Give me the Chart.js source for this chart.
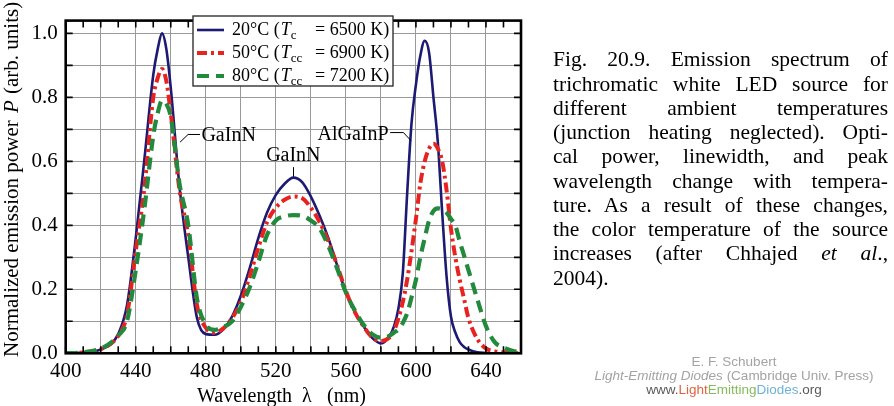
<!DOCTYPE html>
<html><head><meta charset="utf-8">
<script src="https://cdn.jsdelivr.net/npm/chart.js@4/dist/chart.umd.min.js"></script>
<style>
html,body{margin:0;padding:0;background:#fff;}
#wrap{position:relative;width:894px;height:406px;overflow:hidden;background:#fff;}
#c{position:absolute;left:0;top:0;}
.cap{position:absolute;left:553px;top:47.3px;width:335px;font-family:'Liberation Serif','Times New Roman',serif;font-size:21.5px;line-height:24.26px;color:#000;}
.cap .j{text-align:justify;text-align-last:justify;}
.ft{position:absolute;left:534px;width:400px;text-align:center;font-family:'Liberation Sans',Arial,sans-serif;font-size:13.5px;line-height:15px;color:#a3a3a3;white-space:nowrap;}
</style></head>
<body><div id="wrap">
<canvas id="c" width="894" height="406"></canvas>
<div class="cap">
<div class="j">Fig. 20.9. Emission spectrum of</div>
<div class="j">trichromatic white LED source for</div>
<div class="j">different ambient temperatures</div>
<div class="j">(junction heating neglected). Opti-</div>
<div class="j">cal power, linewidth, and peak</div>
<div class="j">wavelength change with tempera-</div>
<div class="j">ture. As a result of these changes,</div>
<div class="j">the color temperature of the source</div>
<div class="j">increases (after Chhajed <i>et al</i>.,</div>
<div>2004).</div>
</div>
<div class="ft" style="top:353.8px">E. F. Schubert</div>
<div class="ft" style="top:368.3px"><i>Light-Emitting Diodes</i> (Cambridge Univ. Press)</div>
<div class="ft" style="top:382.3px"><span style="color:#5a5a5a">www.</span><span style="color:#e2623f">Light</span><span style="color:#86bb5c">Emitting</span><span style="color:#6db3d6">Diodes</span><span style="color:#5a5a5a">.org</span></div>
</div>
<script>
// ---- data ----
const wavelengths = [400,405,410,415,420,425,430,435,440,445,450,452.5,455,457.5,460,465,470,475,480,485,490,495,500,505,510,515,520,525,530,535,540,545,550,555,560,565,570,575,580,585,587.5,590,592.5,595,597.5,600,602.5,605,607.5,610,612.5,615,617.5,620,622.5,625,627.5,630,635,640,645,650,655,660];
const p20C = [0,0.001,0.002,0.005,0.012,0.026,0.06,0.15,0.36,0.61,0.87,0.95,1.0,0.95,0.83,0.52,0.30,0.11,0.06,0.058,0.075,0.115,0.18,0.265,0.36,0.44,0.495,0.53,0.549,0.535,0.49,0.43,0.36,0.275,0.19,0.13,0.085,0.048,0.031,0.055,0.085,0.14,0.25,0.50,0.72,0.84,0.93,0.977,0.94,0.80,0.66,0.44,0.24,0.115,0.065,0.035,0.02,0.012,0.003,0.001,0,0,0,0];
const p50C = [0,0.001,0.003,0.006,0.013,0.027,0.055,0.12,0.32,0.52,0.80,0.86,0.889,0.85,0.75,0.51,0.37,0.15,0.08,0.064,0.078,0.11,0.16,0.24,0.33,0.41,0.455,0.48,0.49,0.485,0.455,0.41,0.35,0.275,0.195,0.13,0.085,0.05,0.038,0.05,0.07,0.11,0.16,0.23,0.32,0.42,0.53,0.60,0.64,0.655,0.64,0.60,0.51,0.39,0.30,0.23,0.17,0.11,0.045,0.015,0.006,0.003,0.001,0];
const p80C = [0,0.001,0.003,0.007,0.015,0.03,0.055,0.10,0.26,0.455,0.68,0.75,0.79,0.78,0.74,0.53,0.40,0.17,0.09,0.073,0.082,0.10,0.145,0.205,0.285,0.37,0.415,0.428,0.432,0.43,0.415,0.39,0.335,0.265,0.19,0.135,0.09,0.06,0.049,0.055,0.065,0.075,0.095,0.125,0.175,0.23,0.30,0.36,0.415,0.445,0.453,0.45,0.44,0.42,0.40,0.35,0.305,0.26,0.17,0.085,0.035,0.018,0.008,0.003];
const xTickLabels = [400,440,480,520,560,600,640];
const yTickLabels = ['0.0','0.2','0.4','0.6','0.8','1.0'];
const legendTemps = ['20°C (','50°C (','80°C ('];
const legendSubs = ['c','cc','cc'];
const legendKelvin = ['= 6500 K)','= 6900 K)','= 7200 K)'];
// annotation anchors in data units [wavelength, power]
const annoGaInN1 = {text:'GaInN', leader:[[465.3,0.660],[469.9,0.684],[476.7,0.684]], at:[477.5,0.665]};
const annoGaInN2 = {text:'GaInN', leader:[[530.1,0.582],[530.1,0.552]], at:[530,0.600]};
const annoAlGaInP = {text:'AlGaInP', leader:[[585.3,0.690],[592.9,0.690],[597.1,0.665]], at:[584.4,0.667]};

const pts = arr => wavelengths.map((w,i)=>({x:w,y:arr[i]}));
const SERIF = "'Liberation Serif','Times New Roman',serif";

const decor = {
  id:'decor',
  afterDatasetsDraw(chart){
    const {ctx, chartArea:a, scales:{x,y}} = chart;
    ctx.save();
    // inward ticks
    ctx.strokeStyle='#000'; ctx.lineWidth=1.6; ctx.setLineDash([]);
    ctx.beginPath();
    for(let w=400; w<=660; w+=10){
      const px=x.getPixelForValue(w);
      ctx.moveTo(px,a.bottom); ctx.lineTo(px,a.bottom-7);
      ctx.moveTo(px,a.top); ctx.lineTo(px,a.top+7);
    }
    for(let k=0;k<=10;k++){
      const py=y.getPixelForValue(k/10);
      ctx.moveTo(a.left,py); ctx.lineTo(a.left+7,py);
      ctx.moveTo(a.right,py); ctx.lineTo(a.right-7,py);
    }
    ctx.stroke();
    // frame
    ctx.lineWidth=2.6;
    ctx.strokeRect(a.left,a.top,a.right-a.left,a.bottom-a.top);

    // annotations
    ctx.lineWidth=1; ctx.strokeStyle='#000'; ctx.fillStyle='#000';
    ctx.font='20px '+SERIF;
    const drawAnno=(an,align)=>{
      ctx.beginPath();
      an.leader.forEach((p,i)=>{const px=x.getPixelForValue(p[0]),py=y.getPixelForValue(p[1]); if(i)ctx.lineTo(px,py); else ctx.moveTo(px,py);});
      ctx.stroke();
      ctx.textAlign=align; ctx.textBaseline='alphabetic';
      ctx.fillText(an.text,x.getPixelForValue(an.at[0]),y.getPixelForValue(an.at[1]));
    };
    drawAnno(annoGaInN1,'left');
    drawAnno(annoGaInN2,'center');
    drawAnno(annoAlGaInP,'right');

    // legend box
    const bx=193,by=16,bw=200,bh=70;
    ctx.fillStyle='#fff'; ctx.fillRect(bx,by,bw,bh);
    ctx.strokeStyle='#222'; ctx.lineWidth=1.3; ctx.strokeRect(bx,by,bw,bh);
    chart.data.datasets.forEach((ds,i)=>{
      const yl=30+23*i;
      ctx.save();
      ctx.strokeStyle=ds.borderColor; ctx.lineWidth=ds.borderWidth;
      ctx.setLineDash(ds.borderDash||[]);
      ctx.beginPath(); ctx.moveTo(197,yl); ctx.lineTo(224,yl); ctx.stroke();
      ctx.restore();
      const bl=yl+5;
      ctx.fillStyle='#000'; ctx.textAlign='left'; ctx.textBaseline='alphabetic';
      let tx=232;
      ctx.font='18px '+SERIF; ctx.fillText(legendTemps[i],tx,bl); tx+=ctx.measureText(legendTemps[i]).width+1;
      ctx.font='italic 18px '+SERIF; ctx.fillText('T',tx,bl); tx+=ctx.measureText('T').width;
      ctx.font='13px '+SERIF; ctx.fillText(legendSubs[i],tx,bl+4);
      ctx.font='18px '+SERIF; ctx.fillText(legendKelvin[i],315,bl);
    });

    // axis titles
    ctx.fillStyle='#000'; ctx.textAlign='left'; ctx.textBaseline='alphabetic';
    ctx.font='20px '+SERIF;
    ctx.fillText('Wavelength',197,401.5);
    ctx.fillText('λ',302,401.5);
    ctx.fillText('(nm)',327,401.5);
    ctx.save();
    ctx.translate(17.5,357); ctx.rotate(-Math.PI/2);
    ctx.font='21px '+SERIF; ctx.fillText('Normalized emission power',0,0);
    ctx.font='italic 21px '+SERIF; ctx.fillText('P',244,0);
    ctx.font='21px '+SERIF; ctx.fillText('(arb. units)',263,0);
    ctx.restore();
    ctx.restore();
  }
};

new Chart(document.getElementById('c'),{
  type:'line',
  data:{datasets:[
    {label:'20°C',data:pts(p20C),borderColor:'#1c1a72',borderWidth:2.6,borderDash:[],order:2},
    {label:'50°C',data:pts(p50C),borderColor:'#e8231f',borderWidth:4,borderDash:[10,4,3,4],order:1},
    {label:'80°C',data:pts(p80C),borderColor:'#218a3c',borderWidth:4.2,borderDash:[12,7],order:0}
  ]},
  options:{
    responsive:false, animation:false, devicePixelRatio:1, events:[],
    layout:{padding:{left:0,top:2,right:373,bottom:0}},
    elements:{point:{radius:0},line:{cubicInterpolationMode:'monotone',fill:false,borderCapStyle:'butt'}},
    plugins:{legend:{display:false},tooltip:{enabled:false}},
    scales:{
      x:{type:'linear',min:400,max:660,
        afterFit(s){s.height=52.7;},
        grid:{color:'#9a9a9a',lineWidth:1,drawTicks:false},
        border:{display:false},
        ticks:{stepSize:20,autoSkip:false,maxRotation:0,padding:6,color:'#000',font:{family:SERIF,size:21},
          callback:v=>xTickLabels.includes(v)?String(v):''}
      },
      y:{type:'linear',min:0,max:1.04,
        afterFit(s){s.width=65.7;},
        grid:{color:'#9a9a9a',lineWidth:1,drawTicks:false},
        border:{display:false},
        ticks:{stepSize:0.1,includeBounds:false,padding:8,color:'#000',font:{family:SERIF,size:21},
          callback:v=>{const l=yTickLabels.find(t=>Math.abs(parseFloat(t)-v)<1e-6);return l===undefined?'':l;}}
      }
    }
  },
  plugins:[decor]
});
</script>
</body></html>
